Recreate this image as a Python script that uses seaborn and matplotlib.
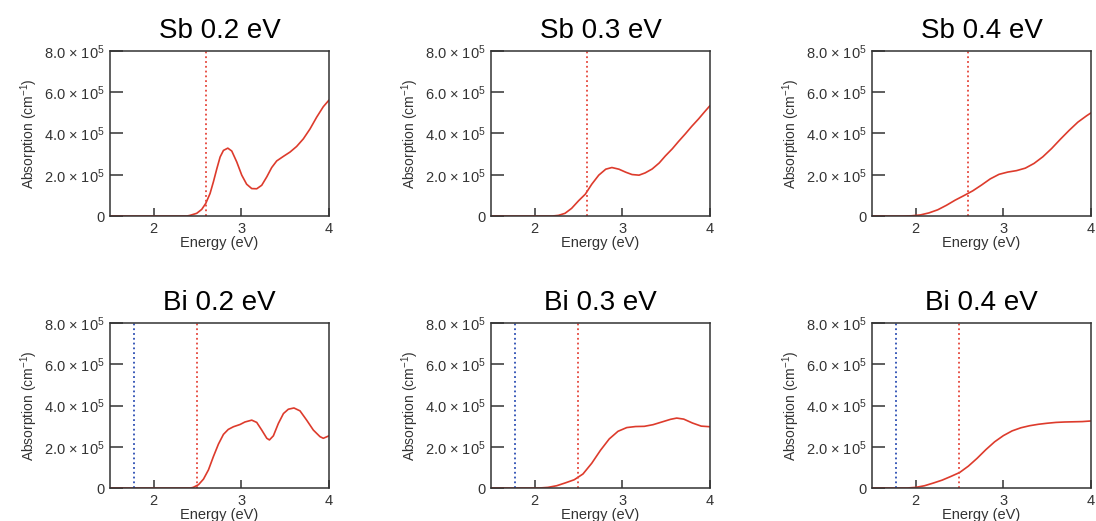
import matplotlib
matplotlib.use("Agg")
import matplotlib.pyplot as plt
import seaborn as sns
import pandas as pd
from matplotlib.ticker import FixedLocator, FixedFormatter

# ---- absorption spectra (values in units of 1e5 cm^-1) ----
sb02_energy = [1.5, 2.0, 2.38, 2.413, 2.49, 2.547, 2.593, 2.642, 2.68, 2.72, 2.757, 2.795, 2.845,
               2.89, 2.947, 3.004, 3.06, 3.118, 3.175, 3.232, 3.29, 3.346, 3.403, 3.479, 3.555,
               3.63, 3.707, 3.783, 3.859, 3.935, 4.0]
sb02_abs = [0, 0, 0, 0.03, 0.13, 0.32, 0.61, 1.09, 1.65, 2.3, 2.86, 3.18, 3.29,
            3.15, 2.62, 1.98, 1.54, 1.33, 1.32, 1.49, 1.9, 2.35, 2.67, 2.89, 3.1,
            3.37, 3.74, 4.22, 4.79, 5.3, 5.62]

sb03_energy = [1.5, 2.0, 2.2, 2.27, 2.345, 2.42, 2.50, 2.577, 2.65, 2.73, 2.81, 2.88, 2.96, 3.04,
               3.11, 3.19, 3.26, 3.34, 3.42, 3.49, 3.57, 3.64, 3.72, 3.79, 3.87, 3.94, 4.0]
sb03_abs = [0, 0, 0, 0.03, 0.13, 0.37, 0.74, 1.06, 1.54, 1.98, 2.27, 2.35, 2.27, 2.12,
            2.01, 1.98, 2.09, 2.28, 2.57, 2.91, 3.26, 3.61, 3.99, 4.34, 4.71, 5.06, 5.35]

sb04_energy = [1.5, 1.85, 1.95, 2.05, 2.15, 2.25, 2.35, 2.45, 2.55, 2.65, 2.75, 2.85, 2.95, 3.05,
               3.15, 3.25, 3.35, 3.45, 3.55, 3.65, 3.75, 3.85, 3.95, 4.0]
sb04_abs = [0, 0, 0.01, 0.05, 0.15, 0.3, 0.52, 0.77, 0.99, 1.22, 1.5, 1.8, 2.02, 2.13,
            2.2, 2.32, 2.55, 2.87, 3.27, 3.72, 4.15, 4.55, 4.86, 5.0]

bi02_energy = [1.5, 2.0, 2.42, 2.45, 2.51, 2.567, 2.624, 2.68, 2.738, 2.795, 2.85, 2.909, 2.985,
               3.04, 3.118, 3.175, 3.232, 3.29, 3.32, 3.365, 3.422, 3.48, 3.536, 3.6, 3.669,
               3.745, 3.821, 3.897, 3.935, 4.0]
bi02_abs = [0, 0, 0, 0.03, 0.16, 0.43, 0.88, 1.52, 2.13, 2.6, 2.84, 2.97, 3.08,
            3.2, 3.29, 3.18, 2.81, 2.41, 2.33, 2.53, 3.13, 3.61, 3.82, 3.88, 3.74,
            3.29, 2.81, 2.49, 2.41, 2.53]

bi03_energy = [1.5, 2.05, 2.15, 2.25, 2.35, 2.45, 2.55, 2.65, 2.75, 2.85, 2.95, 3.05, 3.15, 3.25,
               3.35, 3.45, 3.55, 3.62, 3.7, 3.8, 3.9, 4.0]
bi03_abs = [0, 0, 0.03, 0.11, 0.25, 0.4, 0.68, 1.2, 1.83, 2.38, 2.75, 2.93, 2.98, 2.99,
            3.07, 3.2, 3.33, 3.39, 3.34, 3.15, 3.0, 2.97]

bi04_energy = [1.5, 1.9, 2.0, 2.1, 2.2, 2.3, 2.4, 2.5, 2.6, 2.7, 2.8, 2.9, 3.0, 3.1, 3.2, 3.3,
               3.4, 3.5, 3.6, 3.7, 3.8, 3.9, 4.0]
bi04_abs = [0, 0, 0.03, 0.11, 0.24, 0.38, 0.56, 0.75, 1.06, 1.44, 1.86, 2.24, 2.54, 2.77, 2.92,
            3.02, 3.09, 3.14, 3.18, 3.2, 3.21, 3.22, 3.25]

titles = ["Sb 0.2 eV", "Sb 0.3 eV", "Sb 0.4 eV", "Bi 0.2 eV", "Bi 0.3 eV", "Bi 0.4 eV"]
energies = [sb02_energy, sb03_energy, sb04_energy, bi02_energy, bi03_energy, bi04_energy]
absorptions = [sb02_abs, sb03_abs, sb04_abs, bi02_abs, bi03_abs, bi04_abs]

# reference energies drawn as dotted vertical markers
sb_red_line = 2.60
bi_red_line = 2.49
bi_blue_line = 1.77

y_ticks = [0, 2.0, 4.0, 6.0, 8.0]
y_tick_labels = ["0", "2.0 × 10$^{5}$", "4.0 × 10$^{5}$",
                 "6.0 × 10$^{5}$", "8.0 × 10$^{5}$"]
x_ticks = [2, 3, 4]
x_tick_labels = ["2", "3", "4"]
SCALE = 1e5

sns.set_theme(style="ticks")
plt.rcParams["font.family"] = ["Liberation Sans", "DejaVu Sans"]
plt.rcParams["mathtext.fontset"] = "custom"
plt.rcParams["mathtext.rm"] = "Liberation Sans"
plt.rcParams["mathtext.it"] = "Liberation Sans:italic"

line_color = "#dd3b2c"
red_dotted = "#e5453a"
blue_dotted = "#2b4db3"
axis_color = "#333333"

fig = plt.figure(figsize=(10.96, 5.21), dpi=100)
W, H = 1096, 521
col_left = [110, 491, 872]
row_bottom = [216, 488]
ax_w, ax_h = 219, 165

for i in range(6):
    r, c = divmod(i, 3)
    ax = fig.add_axes([col_left[c] / W, (H - row_bottom[r]) / H, ax_w / W, ax_h / H])
    df = pd.DataFrame({"Energy": energies[i],
                       "Absorption": [v * SCALE for v in absorptions[i]]})
    sns.lineplot(data=df, x="Energy", y="Absorption", ax=ax, color=line_color,
                 linewidth=1.2, estimator=None, sort=False,
                 solid_joinstyle="round", solid_capstyle="round")
    if r == 0:
        ax.axvline(sb_red_line, color=red_dotted, linestyle=":", linewidth=1.3)
    else:
        ax.axvline(bi_blue_line, color=blue_dotted, linestyle=":", linewidth=1.3)
        ax.axvline(bi_red_line, color=red_dotted, linestyle=":", linewidth=1.3)

    ax.set_xlim(1.5, 4.0)
    ax.set_ylim(0, 8.0 * SCALE)
    ax.xaxis.set_major_locator(FixedLocator(x_ticks))
    ax.xaxis.set_major_formatter(FixedFormatter(x_tick_labels))
    ax.yaxis.set_major_locator(FixedLocator([v * SCALE for v in y_ticks]))
    ax.yaxis.set_major_formatter(FixedFormatter(y_tick_labels))
    ax.tick_params(axis="x", direction="in", length=6, width=1.1, pad=4,
                   labelsize=10.5, colors=axis_color)
    ax.tick_params(axis="y", direction="in", length=9, width=1.1, pad=4,
                   labelsize=10.5, colors=axis_color)
    for s in ax.spines.values():
        s.set_visible(True)
        s.set_color(axis_color)
        s.set_linewidth(1.1)
    ax.set_xlabel("Energy (eV)", fontsize=10.5, color=axis_color, labelpad=0)
    ax.set_ylabel("Absorption (cm$^{-1}$)", fontsize=10, color=axis_color, labelpad=3)
    ax.set_title(titles[i], fontsize=20, color="black", pad=9)

fig.savefig("out.png", dpi=100)
